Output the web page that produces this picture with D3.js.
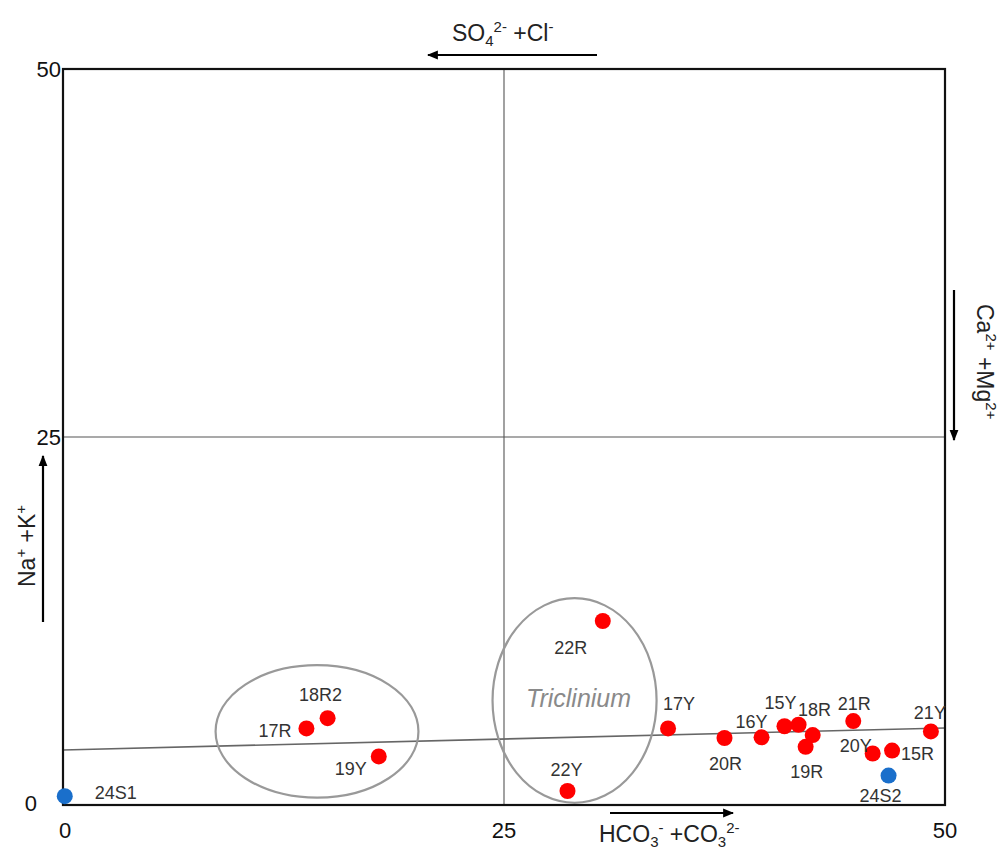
<!DOCTYPE html>
<html>
<head>
<meta charset="UTF-8">
<title>Gibbs-type diagram</title>
<script src="https://d3js.org/d3.v7.min.js"></script>
<style>
  body { margin: 0; background: #fff; }
  svg { font-family: "Liberation Sans", Arial, sans-serif; }
  .frame { fill: none; stroke: #111; stroke-width: 2.2; }
  .grid { stroke: #555; stroke-width: 1.1; }
  .trend { stroke: #666; stroke-width: 1.6; }
  .tick { font-size: 22px; fill: #111; }
  .lab { font-size: 18px; fill: #333; }
  .ell { fill: none; stroke: #999; stroke-width: 2.2; }
  .ion { font-size: 23px; fill: #222; }
</style>
</head>
<body>
<svg id="chart" width="1000" height="852"></svg>
<script>
// ---- data ----
var names = ["24S1", "17R", "18R2", "19Y", "22R", "22Y", "17Y", "20R", "16Y", "15Y", "18R", "", "19R", "21R", "20Y", "15R", "21Y", "24S2"];
var xs    = [0.1, 13.8, 15.0, 17.9, 30.6, 28.6, 34.3, 37.5, 39.6, 40.9, 41.7, 42.5, 42.1, 44.8, 45.9, 47.0, 49.2, 46.8];
var ys    = [0.6, 5.2, 5.9, 3.3, 12.5, 0.95, 5.2, 4.55, 4.6, 5.35, 5.45, 4.75, 3.95, 5.7, 3.5, 3.7, 5.0, 2.0];
var group = ["s", "p", "p", "p", "p", "p", "p", "p", "p", "p", "p", "p", "p", "p", "p", "p", "p", "s"];
var xTicks = [0, 25, 50];
var yTicks = [0, 25, 50];
var trendX = [0, 50];
var trendY = [3.74, 5.23];
// ellipses: centre and radii in data units
var ellipses = [
  {cx: 14.4, cy: 5.0, rx: 5.75, ry: 4.5},
  {cx: 29.0, cy: 7.1, rx: 4.65, ry: 6.95}
];

// label placement relative to the point (pixels), anchor
var labelPos = {
  "24S1": [30, -4, "start"], "17R": [-15, 2, "end"], "18R2": [-7, -24, "middle"],
  "19Y": [-12, 12, "end"], "22R": [-32, 26, "middle"], "22Y": [-1, -22, "middle"],
  "17Y": [11, -25, "middle"], "20R": [1, 25, "middle"], "16Y": [-10, -16, "middle"],
  "15Y": [-4, -24, "middle"], "18R": [16, -16, "middle"], "19R": [1, 24, "middle"],
  "21R": [1, -18, "middle"], "20Y": [-17, -8, "middle"], "15R": [9, 2, "start"],
  "21Y": [-1, -19, "middle"], "24S2": [-8, 19, "middle"]
};

var svg = d3.select("#chart");
var x = d3.scaleLinear().domain([0, 50]).range([63, 945]);
var y = d3.scaleLinear().domain([0, 50]).range([805, 69]);
var color = d3.scaleOrdinal().domain(["p", "s"]).range(["#ff0000", "#1a6fcb"]);

var defs = svg.append("defs");
defs.append("marker").attr("id", "arr").attr("viewBox", "0 0 10 10")
  .attr("refX", 9).attr("refY", 5).attr("markerWidth", 5).attr("markerHeight", 5)
  .attr("orient", "auto-start-reverse")
  .append("path").attr("d", "M0,1 L10,5 L0,9 Z").attr("fill", "#000");

// mid grid lines
svg.append("line").attr("class", "grid")
  .attr("x1", x(25)).attr("x2", x(25)).attr("y1", y(50)).attr("y2", y(0));
svg.append("line").attr("class", "grid")
  .attr("x1", x(0)).attr("x2", x(50)).attr("y1", y(25)).attr("y2", y(25));

// trend line
svg.append("line").attr("class", "trend")
  .attr("x1", x(trendX[0])).attr("y1", y(trendY[0]))
  .attr("x2", x(trendX[1])).attr("y2", y(trendY[1]));

// frame
svg.append("rect").attr("class", "frame")
  .attr("x", x(0)).attr("y", y(50)).attr("width", x(50) - x(0)).attr("height", y(0) - y(50));

// ellipses
svg.selectAll(".ell").data(ellipses).join("ellipse").attr("class", "ell")
  .attr("cx", d => x(d.cx)).attr("cy", d => y(d.cy))
  .attr("rx", d => x(d.rx) - x(0)).attr("ry", d => y(0) - y(d.ry));

svg.append("text").attr("x", x(29.0) + 4).attr("y", y(7.1) + 7)
  .attr("text-anchor", "middle").attr("font-size", 25).attr("font-style", "italic")
  .attr("fill", "#8a8a8a").text("Triclinium");

// tick labels
svg.selectAll(".xt").data(xTicks).join("text").attr("class", "tick")
  .attr("x", d => x(d) + (d === 0 ? 2 : 0)).attr("y", 838).attr("text-anchor", "middle").text(d => d);
svg.selectAll(".yt").data(yTicks).join("text").attr("class", "tick")
  .attr("x", d => d === 0 ? 37 : 61).attr("y", d => y(d) + 8 + (d === 0 ? -2 : 0))
  .attr("text-anchor", "end").text(d => d);

// points
var pts = names.map((n, i) => ({name: n, x: xs[i], y: ys[i], g: group[i]}));
svg.selectAll(".pt").data(pts).join("circle")
  .attr("cx", d => x(d.x)).attr("cy", d => y(d.y)).attr("r", 8)
  .attr("fill", d => color(d.g));

svg.selectAll(".lab").data(pts.filter(d => d.name)).join("text").attr("class", "lab")
  .attr("x", d => x(d.x) + labelPos[d.name][0])
  .attr("y", d => y(d.y) + labelPos[d.name][1] + 7)
  .attr("text-anchor", d => labelPos[d.name][2]).text(d => d.name);

// ion arrows and labels
function arrow(x1, y1, x2, y2) {
  svg.append("line").attr("x1", x1).attr("y1", y1).attr("x2", x2).attr("y2", y2)
    .attr("stroke", "#000").attr("stroke-width", 2.2).attr("marker-end", "url(#arr)");
}
arrow(597, 55, 428, 55);
arrow(954, 290, 954, 440);
arrow(43, 622, 43, 456);
arrow(610, 813, 733, 813);

// parts: [text, level] with level 0 base, -1 sub, 1 sup
function ionText(el, parts) {
  var cur = 0;
  parts.forEach(p => {
    var off = p[1] === 1 ? -9 : p[1] === -1 ? 5 : 0;
    var t = el.append("tspan").text(p[0]).attr("dy", off - cur);
    if (p[1] !== 0) t.attr("font-size", 15);
    cur = off;
  });
}

var topLab = svg.append("text").attr("class", "ion").attr("x", 452).attr("y", 41);
ionText(topLab, [["SO", 0], ["4", -1], ["2-", 1], [" +Cl", 0], ["-", 1]]);

var botLab = svg.append("text").attr("class", "ion").attr("x", 599).attr("y", 842);
ionText(botLab, [["HCO", 0], ["3", -1], ["-", 1], [" +CO", 0], ["3", -1], ["2-", 1]]);

var rgtLab = svg.append("text").attr("class", "ion")
  .attr("transform", "translate(977,304) rotate(90)");
ionText(rgtLab, [["Ca", 0], ["2+", 1], [" +Mg", 0], ["2+", 1]]);

var lftLab = svg.append("text").attr("class", "ion")
  .attr("transform", "translate(35,587) rotate(-90)");
ionText(lftLab, [["Na", 0], ["+", 1], [" +K", 0], ["+", 1]]);
</script>
</body>
</html>
